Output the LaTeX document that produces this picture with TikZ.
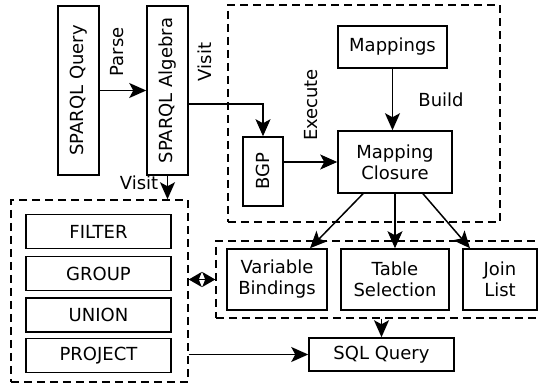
\documentclass[tikz,border=0pt]{standalone}
\usepackage{fontspec}
\setmainfont{DejaVu Sans}
\usetikzlibrary{arrows.meta}

\begin{document}
\begin{tikzpicture}[x=0.5pt, y=-0.5pt, line width=0.75pt,
	font=\fontsize{9}{10.5}\selectfont,
	box/.style={draw, inner sep=0pt, align=center},
	dashbox/.style={draw, dash pattern=on 4pt off 2.5pt, inner sep=0pt},
	arr/.style={-{Stealth[length=8.5pt, width=7.5pt, inset=2pt]}},
	biarr/.style={{Stealth[length=6.5pt, width=7.5pt, inset=1.5pt]}-{Stealth[length=6.5pt, width=7.5pt, inset=1.5pt]}}]
	
	\useasboundingbox (0,0) rectangle (538,385);
	
	% --- 1. Dashed groups ---
	\node[dashbox, minimum width=136pt, minimum height=108.5pt] (exec) at (364,113.5) {};
	\node[dashbox, minimum width=88.5pt, minimum height=91pt] (ops) at (99.5,291) {};
	\node[dashbox, minimum width=164.5pt, minimum height=38.5pt] (sqlparts) at (380.5,279.5) {};
	
	% --- 2. Query and algebra ---
	\node[box, rotate=90, minimum width=84.5pt, minimum height=20.5pt] (query) at (78.5,90.5) {SPARQL Query};
	\node[box, rotate=90, minimum width=84.5pt, minimum height=20.5pt] (algebra) at (167.5,90.5) {SPARQL Algebra};
	
	% --- 3. Execution part ---
	\node[box, minimum width=54.5pt, minimum height=21pt] (mappings) at (392.5,47) {Mappings};
	\node[box, minimum width=57pt, minimum height=31pt] (closure) at (395,162) {Mapping\\Closure};
	\node[box, rotate=90, minimum width=34.5pt, minimum height=20pt] (bgp) at (263,171.5) {BGP};
	
	% --- 4. Operators ---
	\foreach \name/\y in {FILTER/231.5, GROUP/273.5, UNION/315, PROJECT/355.5}
		\node[box, minimum width=72.5pt, minimum height=17pt] (\name) at (98.5,\y) {\name};
	
	% --- 5. SQL parts ---
	\node[box, minimum width=50pt, minimum height=30.5pt] (bindings) at (277,279.5) {Variable\\Bindings};
	\node[box, minimum width=54pt, minimum height=30.5pt] (tablesel) at (395,279.5) {Table\\Selection};
	\node[box, minimum width=37pt, minimum height=30.5pt] (joinlist) at (500,279.5) {Join\\List};
	\node[box, minimum width=72.5pt, minimum height=16.5pt] (sql) at (381.5,354.5) {SQL Query};
	
	% --- 6. Connectors ---
	\draw[arr] (query.south) -- (algebra.north);
	\draw[arr] (algebra.south |- 0,104) -| (bgp.east);
	\draw[arr] (algebra.west) -- (algebra.west |- ops.north);
	\draw[arr] (bgp.south |- closure.west) -- (closure.west);
	\draw[arr] (mappings.south) -- (mappings.south |- closure.north);
	\draw[arr] ([xshift=-16pt]closure.south) -- ([xshift=16.5pt]bindings.north);
	\draw[arr] (closure.south) -- (tablesel.north);
	\draw[arr] ([xshift=14pt]closure.south) -- ([xshift=-15pt]joinlist.north);
	\draw[arr] (sql.north |- sqlparts.south) -- (sql.north);
	\draw[arr] (ops.east |- sql.west) -- (sql.west);
	\draw[biarr] (ops.east |- sqlparts.west) -- (sqlparts.west);
	
	% --- 7. Labels ---
	\node[rotate=90] (parse) at (117,52) {Parse};
	\node[rotate=90] (visitA) at (205,62) {Visit};
	\node[rotate=90] (execute) at (311,105) {Execute};
	\node (build) at (441,100) {Build};
	\node (visitB) at (139,183) {Visit};
	
\end{tikzpicture}
\end{document}
